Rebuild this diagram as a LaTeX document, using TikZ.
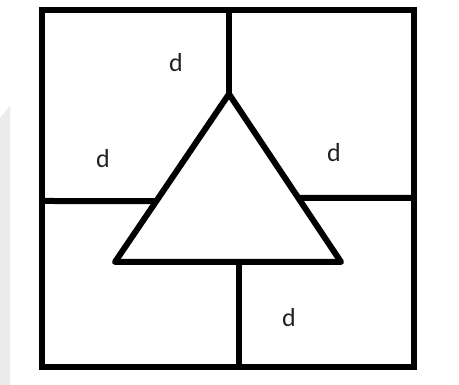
\documentclass[tikz,border=0pt]{standalone}
\usepackage{fontspec}
\setmainfont{Carlito}
\usetikzlibrary{calc}
\definecolor{lbl}{HTML}{222222}
\definecolor{wm}{HTML}{EBEBEB}
\tikzset{
  wall/.style={line width=6pt, black},
  lab/.style={font=\fontsize{26}{26}\selectfont, text=lbl, inner sep=0pt}
}
\begin{document}
\begin{tikzpicture}[x=1pt,y=-1pt]
\useasboundingbox[fill=white] (0,0) rectangle (459,385);
% faint watermark strip
\fill[wm] (0,118) -- (10,106) -- (10,385) -- (0,385) -- cycle;
% corners of the square
\coordinate (TL) at (42,10);
\coordinate (TR) at (414,10);
\coordinate (BR) at (414,367);
\coordinate (BL) at (42,367);
% triangle
\coordinate (A) at (229,94);
\coordinate (L) at (115,262);
\coordinate (R) at (341,262);
% wall ends
\coordinate (T) at (229,10);
\coordinate (W) at (42,201);
\coordinate (E) at (414,198);
\coordinate (B) at (239,368);
\coordinate (Wt) at ($(L)!0.363!(A)$);
\coordinate (Et) at ($(R)!0.381!(A)$);
\coordinate (Bt) at (239,262);
\draw[wall, line join=miter] (TL) -- (TR) -- (BR) -- (BL) -- cycle;
\draw[wall, line join=round] (A) -- (L) -- (R) -- cycle;
\draw[wall] (T) -- (A);
\draw[wall] (W) -- (Wt);
\draw[wall] (E) -- (Et);
\draw[wall] (Bt) -- (B);
% labels
\node[lab] (d1) at (176,63) {d};
\node[lab] (d2) at (103,159) {d};
\node[lab] (d3) at (334,153) {d};
\node[lab] (d4) at (289,318) {d};
\end{tikzpicture}
\end{document}
